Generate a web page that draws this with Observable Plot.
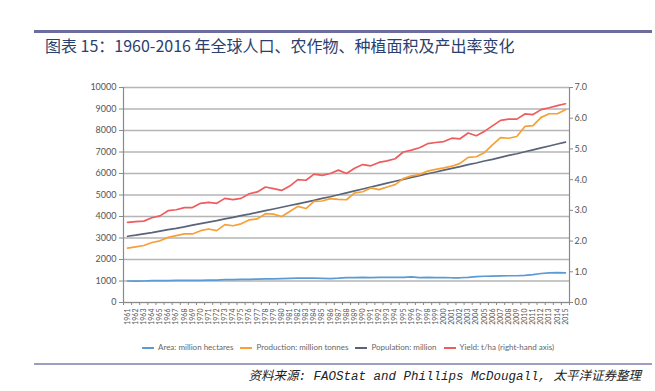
<!DOCTYPE html>
<html>
<head>
<meta charset="utf-8">
<script src="https://cdn.jsdelivr.net/npm/d3@7"></script>
<script src="https://cdn.jsdelivr.net/npm/@observablehq/plot@0.6"></script>
<style>
  body { margin: 0; background: #fff; }
  #wrap { position: relative; width: 655px; height: 391px; overflow: hidden; font-family: Lato, "Noto Sans", sans-serif; }
  #chart { position: absolute; left: 0; top: 0; }
  .topline { position: absolute; left: 34px; top: 30px; width: 618px; height: 3px; background: #6c6c9e; }
  .title { position: absolute; left: 45px; top: 35px; font-family: "Noto Sans CJK SC", sans-serif; font-size: 16px; color: #2b3f6e; white-space: nowrap; line-height: 20px; }
  .legend { position: absolute; left: 142px; top: 342px; display: flex; gap: 7px; font-size: 8px; color: #666; white-space: nowrap; line-height: 11px; }
  .legend span.item { display: flex; align-items: center; }
  .legend span.sw { display: inline-block; width: 12px; height: 2px; margin-right: 4px; }
  .botline { position: absolute; left: 34px; top: 363px; width: 618px; height: 1.5px; background: #9d9dbf; }
  .source { position: absolute; right: 14px; top: 369px; font-family: "Liberation Mono", "Noto Sans CJK SC", monospace; font-style: italic; font-size: 12.5px; color: #222; white-space: nowrap; line-height: 16px; }
</style>
</head>
<body>
<div id="wrap">
  <div id="chart"></div>
  <div class="topline"></div>
  <div class="title">图表 15：1960-2016 年全球人口、农作物、种植面积及产出率变化</div>
  <div class="legend" id="legend"></div>
  <div class="botline"></div>
  <div class="source">资料来源: FAOStat and Phillips McDougall, 太平洋证券整理</div>
</div>
<script>
const years = [1961,1962,1963,1964,1965,1966,1967,1968,1969,1970,
  1971,1972,1973,1974,1975,1976,1977,1978,1979,1980,
  1981,1982,1983,1984,1985,1986,1987,1988,1989,1990,
  1991,1992,1993,1994,1995,1996,1997,1998,1999,2000,
  2001,2002,2003,2004,2005,2006,2007,2008,2009,2010,
  2011,2012,2013,2014,2015];

const area = [1000,995,1000,1020,1020,1020,1025,1025,1030,1030,
  1040,1045,1060,1065,1075,1080,1090,1100,1100,1110,
  1120,1130,1140,1130,1120,1110,1130,1160,1160,1165,
  1160,1165,1165,1165,1170,1190,1160,1170,1160,1160,
  1150,1150,1170,1200,1220,1230,1240,1245,1245,1260,
  1300,1350,1380,1385,1380];

const production = [2530,2590,2650,2790,2870,3030,3110,3190,3190,3340,
  3420,3340,3620,3570,3660,3840,3890,4130,4110,4000,
  4230,4470,4370,4700,4720,4830,4800,4780,5100,5150,
  5330,5250,5370,5480,5760,5890,5950,6110,6190,6260,
  6340,6470,6750,6780,6970,7330,7670,7640,7720,8190,
  8230,8610,8780,8780,8970];

const population = [3080,3130,3190,3250,3320,3390,3450,3520,3600,3670,
  3740,3810,3890,3960,4040,4110,4190,4270,4350,4430,
  4510,4590,4670,4750,4840,4920,5010,5100,5190,5280,
  5370,5460,5550,5640,5730,5820,5900,5990,6070,6160,
  6240,6320,6410,6490,6580,6660,6750,6840,6920,7010,
  7100,7190,7280,7370,7460];

const yieldTha = [2.61,2.63,2.65,2.76,2.82,2.99,3.02,3.09,3.09,3.23,
  3.26,3.23,3.39,3.35,3.39,3.54,3.60,3.76,3.71,3.65,
  3.79,4.00,3.98,4.18,4.14,4.20,4.31,4.20,4.37,4.49,
  4.45,4.56,4.61,4.68,4.90,4.96,5.04,5.17,5.21,5.24,
  5.35,5.33,5.52,5.43,5.57,5.75,5.93,5.97,5.97,6.14,
  6.12,6.28,6.34,6.41,6.47];

const leftTicks = [0,1000,2000,3000,4000,5000,6000,7000,8000,9000,10000];
const rightTicks = [0,1,2,3,4,5,6,7];
const seriesNames = ["Area: million hectares","Production: million tonnes","Population: million","Yield: t/ha (right-hand axis)"];
const seriesColors = ["#5b9bd5","#f7a035","#5a6479","#ee5c5e"];

const LEFT_MAX = 10000, RIGHT_MAX = 7;
const toLeft = v => v / RIGHT_MAX * LEFT_MAX;

const rows = years.map((yr, i) => ({year: yr, area: area[i], production: production[i], population: population[i], yld: yieldTha[i]}));
const boundaries = [years[0] - 0.5, ...years.map(y => y + 0.5)];

const lineOpts = {x: "year", strokeWidth: 1.7, strokeLinejoin: "round"};

const chart = Plot.plot({
  width: 655,
  height: 391,
  marginLeft: 123,
  marginRight: 86,
  marginTop: 87,
  marginBottom: 89,
  x: {type: "linear", domain: [years[0] - 0.5, years[years.length - 1] + 0.5]},
  y: {domain: [0, LEFT_MAX]},
  style: {fontFamily: "Lato, 'Noto Sans', sans-serif", color: "#555", background: "transparent"},
  marks: [
    Plot.gridY({ticks: leftTicks, stroke: "#b5b5b5", strokeOpacity: 1, strokeWidth: 1.3}),
    Plot.ruleX([boundaries[0], boundaries[boundaries.length - 1]], {stroke: "#8a8a8a", strokeWidth: 1.2}),
    Plot.ruleY([0], {stroke: "#8a8a8a", strokeWidth: 1.2}),
    Plot.axisY({ticks: leftTicks, tickSize: 4, tickPadding: 3, fontSize: 9, label: null, tickFormat: d => String(d), stroke: "#8a8a8a"}),
    Plot.axisY({anchor: "right", ticks: rightTicks.map(toLeft), tickSize: 3, tickPadding: 2, fontSize: 9, label: null, tickFormat: d => (d / LEFT_MAX * RIGHT_MAX).toFixed(1), stroke: "#8a8a8a"}),
    Plot.axisX({ticks: boundaries, tickSize: 3, tickFormat: () => "", label: null, stroke: "#8a8a8a"}),
    Plot.axisX({ticks: years, tickSize: 0, tickPadding: 6, tickRotate: -90, fontSize: 7, label: null, tickFormat: d => String(d)}),
    Plot.line(rows, {...lineOpts, y: "area", stroke: seriesColors[0]}),
    Plot.line(rows, {...lineOpts, y: "population", stroke: seriesColors[2]}),
    Plot.line(rows, {...lineOpts, y: "production", stroke: seriesColors[1]}),
    Plot.line(rows, {...lineOpts, y: d => toLeft(d.yld), stroke: seriesColors[3]})
  ]
});
document.getElementById("chart").appendChild(chart);

const legend = document.getElementById("legend");
seriesNames.forEach((name, i) => {
  const item = document.createElement("span");
  item.className = "item";
  const sw = document.createElement("span");
  sw.className = "sw";
  sw.style.background = seriesColors[i];
  item.appendChild(sw);
  item.appendChild(document.createTextNode(name));
  legend.appendChild(item);
});
</script>
</body>
</html>
